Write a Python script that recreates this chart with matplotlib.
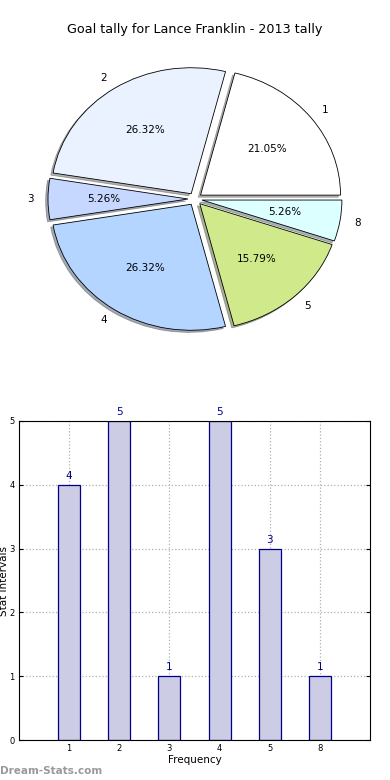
import matplotlib
matplotlib.use("Agg")
import matplotlib.pyplot as plt

categories = ["1", "2", "3", "4", "5", "8"]
counts = [4, 5, 1, 5, 3, 1]
pie_colors = ["#ffffff", "#ebf2ff", "#c6d8ff", "#b3d5ff", "#d0ea8b", "#dcffff"]
title = "Goal tally for Lance Franklin - 2013 tally"

W, H = 390, 780
fig = plt.figure(figsize=(W / 100, H / 100), dpi=100)

# Pie axes (elliptical, as in the reference)
px_x, px_y = 140.0, 126.0
cx, cy = 195.0, 199.0
lim = 1.25
left = cx - lim * px_x
top = cy - lim * px_y
axp = fig.add_axes([left / W, 1 - (top + 2 * lim * px_y) / H, 2 * lim * px_x / W, 2 * lim * px_y / H])
axp.pie(counts, labels=categories, colors=pie_colors, explode=[0.05] * len(counts),
        autopct="%.2f%%", startangle=0,
        shadow={"ox": -0.012, "oy": -0.012, "shade": 0.6},
        wedgeprops=dict(edgecolor="black", linewidth=0.6),
        textprops=dict(fontsize=7.5, color="black"))
axp.set_aspect("auto")
axp.set_xlim(-lim, lim)
axp.set_ylim(-lim, lim)
axp.axis("off")
fig.text(195 / W, 1 - 30 / H, title, ha="center", va="center", fontsize=9.2)

# Bar axes
axb = fig.add_axes([19 / W, 40 / H, 351 / W, 319 / H])
x = list(range(len(categories)))
axb.bar(x, counts, width=0.44, color="#cccce5", edgecolor="#00008b", linewidth=0.9, zorder=2)
for xi, v in zip(x, counts):
    axb.text(xi, v + 0.06, str(v), ha="center", va="bottom", fontsize=7.5, color="#00008b")
axb.set_xlim(-1, 6)
axb.set_ylim(0, 5)
axb.set_xticks(x)
axb.set_xticklabels(categories)
axb.set_yticks(range(0, 6))
axb.tick_params(labelsize=6, length=3, direction="in", pad=3, right=True)
axb.grid(True, color="#b0b0b0", linestyle=":", linewidth=0.9, zorder=0)
axb.set_axisbelow(True)
axb.set_xlabel("Frequency", fontsize=7.5, labelpad=1)
axb.set_ylabel("Stat Intervals", fontsize=7.5)
axb.yaxis.set_label_coords(-0.028, 0.5)
for s in axb.spines.values():
    s.set_linewidth(0.8)

fig.text(0 / W, 1 - 771 / H, "Dream-Stats.com", ha="left", va="center", fontsize=7.5,
         color="#999999", fontweight="bold")

fig.savefig("out.png", dpi=100)
